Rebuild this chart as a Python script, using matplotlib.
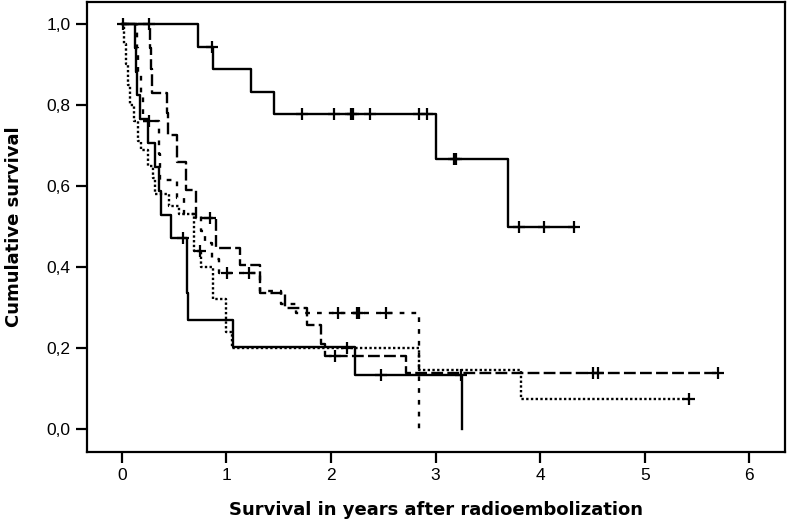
import numpy as np
import matplotlib
matplotlib.use("Agg")
from matplotlib import pyplot as plt

# top solid curve
a_time = [0.73, 0.87, 1.24, 1.46, 3.00, 3.69]
a_surv = [0.944, 0.889, 0.833, 0.778, 0.667, 0.500]
a_cens = [0.86, 1.72, 2.03, 2.19, 2.21, 2.37, 2.84, 2.92, 3.18, 3.20, 3.80, 4.04, 4.32]

# low solid curve
b_time = [0.13, 0.14, 0.15, 0.17, 0.25, 0.315, 0.355, 0.38, 0.47, 0.62, 0.625, 0.63, 1.06, 2.23, 3.25]
b_surv = [0.941, 0.882, 0.824, 0.765, 0.706, 0.647, 0.588, 0.529, 0.471, 0.403, 0.336, 0.269, 0.202, 0.134, 0.0]
b_cens = [0.585, 2.48, 3.245]

# long dashed curve
l_time = [0.27, 0.28, 0.29, 0.43, 0.44, 0.53, 0.61, 0.71, 0.90, 1.13, 1.32, 1.56, 1.77, 1.91, 1.94, 2.72]
l_surv = [0.94, 0.89, 0.83, 0.78, 0.726, 0.66, 0.59, 0.52, 0.447, 0.405, 0.336, 0.30, 0.257, 0.21, 0.18, 0.139]
l_cens = [0.26, 0.84, 2.04, 4.51, 4.55, 5.70]

# short dashed curve
s_time = [0.15, 0.16, 0.18, 0.20, 0.36, 0.37, 0.53, 0.60, 0.76, 0.80, 0.86, 0.93, 1.32, 1.52, 1.67, 2.84]
s_surv = [0.94, 0.88, 0.82, 0.76, 0.68, 0.615, 0.57, 0.53, 0.49, 0.46, 0.42, 0.385, 0.34, 0.31, 0.287, 0.0]
s_cens = [0.26, 1.01, 1.22, 2.07, 2.25, 2.27, 2.53]

# dotted curve
d_time = [0.02, 0.04, 0.06, 0.08, 0.12, 0.16, 0.18, 0.25, 0.30, 0.32, 0.45, 0.55, 0.69, 0.76, 0.87, 1.00, 1.05, 2.84, 3.82]
d_surv = [0.95, 0.90, 0.85, 0.80, 0.76, 0.71, 0.69, 0.65, 0.62, 0.58, 0.55, 0.53, 0.44, 0.40, 0.32, 0.24, 0.20, 0.147, 0.074]
d_cens = [0.01, 0.75, 2.15, 5.42]

x_ticks = [0, 1, 2, 3, 4, 5, 6]
y_ticks = [0.0, 0.2, 0.4, 0.6, 0.8, 1.0]
y_labels = ["0,0", "0,2", "0,4", "0,6", "0,8", "1,0"]


def km(ax, times, surv, cens, dashes):
    t = np.array(times)
    s = np.array(surv)
    end = max(t.max(), max(cens))
    x = np.concatenate([[0], t, [end]])
    y = np.concatenate([[1.0], s, [s[-1]]])
    line, = ax.step(x, y, where='post', color='black', lw=1.7)
    if dashes is not None:
        line.set_dashes(dashes)
    # censored marks sit on the curve
    idx = np.searchsorted(t, cens, side='right')
    yc = np.concatenate([[1.0], s])[idx]
    ax.plot(cens, yc, '+', color='black', ms=8, mew=1.6)


fig = plt.figure(figsize=(7.88, 5.24), dpi=100)
ax = fig.add_axes([0.110, 0.137, 0.886, 0.859])

km(ax, a_time, a_surv, a_cens, None)
km(ax, b_time, b_surv, b_cens, None)
km(ax, l_time, l_surv, l_cens, (5, 1.8))
km(ax, s_time, s_surv, s_cens, (2, 3))
km(ax, d_time, d_surv, d_cens, (1, 1))

ax.set_xlim(-0.335, 6.34)
ax.set_ylim(-0.057, 1.054)
ax.set_xticks(x_ticks)
ax.set_yticks(y_ticks)
ax.set_yticklabels(y_labels)

for sp in ax.spines.values():
    sp.set_linewidth(1.6)
ax.tick_params(direction='out', length=8, width=1.6, labelsize=12.5)
for lab in ax.get_xticklabels() + ax.get_yticklabels():
    lab.set_family('Liberation Sans')

ax.set_xlabel("Survival in years after radioembolization", fontsize=13,
              fontweight='bold', labelpad=13)
ax.set_ylabel("Cumulative survival", fontsize=13, fontweight='bold', labelpad=17)

fig.savefig("out.png", dpi=100)
